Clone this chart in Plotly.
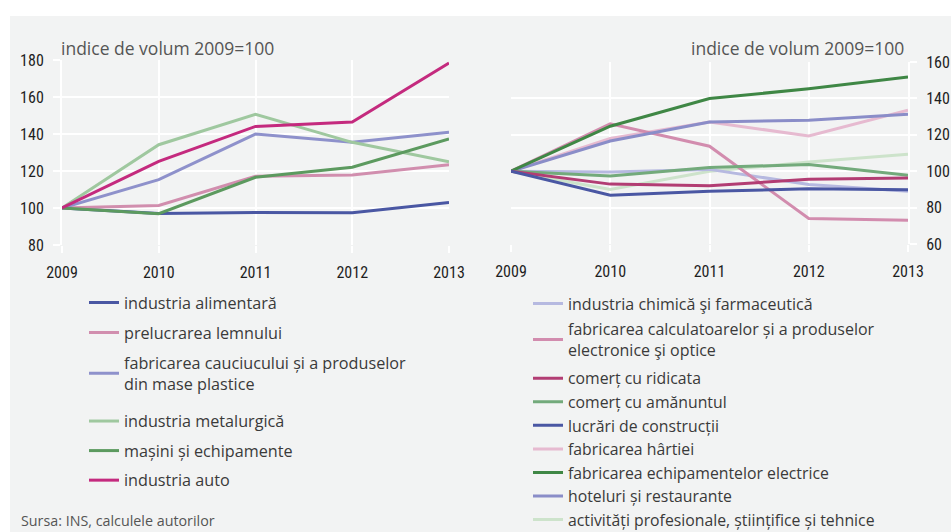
import plotly.graph_objects as go

years = [2009, 2010, 2011, 2012, 2013]

# Left panel series
left_names = [
    "industria alimentară",
    "prelucrarea lemnului",
    "fabricarea cauciucului și a produselor<br>din mase plastice",
    "industria metalurgică",
    "mașini și echipamente",
    "industria auto",
]
alimentara = [100, 97.0, 97.6, 97.4, 103.0]
lemn = [100, 101.4, 117.1, 117.8, 123.4]
cauciuc = [100, 115.3, 140.0, 135.5, 140.9]
metalurgica = [100, 134.2, 150.6, 135.5, 125.0]
masini = [100, 96.9, 116.6, 122.0, 137.3]
auto = [100, 125.2, 144.1, 146.5, 178.4]
left_values = [alimentara, lemn, cauciuc, metalurgica, masini, auto]
left_colors = ["#4a57a3", "#d18eae", "#8e91cb", "#9fc89f", "#5c9a5f", "#c42a7e"]

# Right panel series
right_names = [
    "industria chimică şi farmaceutică",
    "fabricarea calculatoarelor și a produselor<br>electronice şi optice",
    "comerț cu ridicata",
    "comerț cu amănuntul",
    "lucrări de construcții",
    "fabricarea hârtiei",
    "fabricarea echipamentelor electrice",
    "hoteluri și restaurante",
    "activități profesionale, științifice și tehnice",
]
chimica = [100, 99.6, 101.0, 92.7, 89.0]
calculatoare = [100, 126.0, 113.7, 74.0, 73.1]
ridicata = [100, 92.9, 92.0, 95.6, 96.3]
amanunt = [100, 97.4, 102.0, 103.7, 97.8]
constructii = [100, 86.8, 89.0, 90.3, 89.8]
hartie = [100, 118.0, 127.0, 119.4, 133.5]
echip_electrice = [100, 124.7, 139.9, 145.3, 151.7]
hoteluri = [100, 116.6, 127.0, 128.0, 131.3]
activitati = [100, 90.0, 100.0, 105.0, 109.3]
right_values = [chimica, calculatoare, ridicata, amanunt, constructii,
                hartie, echip_electrice, hoteluri, activitati]
right_colors = ["#b6b9e0", "#d28cae", "#b23d73", "#73aa7b", "#4a57a3",
                "#e6bad0", "#3f8745", "#8a8dc8", "#cde3cb"]
# drawing order on the right panel (bottom to top)
right_draw_order = [8, 0, 5, 1, 7, 6, 3, 2, 4]

left_ticks = [80, 100, 120, 140, 160, 180]
right_ticks = [60, 80, 100, 120, 140, 160]
unit_title = "indice de volum 2009=100"
source_text = "Sursa: INS, calculele autorilor"

W, H = 951, 532
BG = "#f2f3f3"
TICK_FONT = dict(family="Roboto Condensed, Liberation Sans Narrow, Arial Narrow, Roboto, sans-serif",
                 size=16, color="#1e1e1e")
TEXT_FONT = "Open Sans, Noto Sans, sans-serif"

fig = go.Figure()

# legend blocks: left panel split after the two-line entry, right panel likewise
left_legend_of = ["legend", "legend", "legend", "legend3", "legend3", "legend3"]
right_legend_of = ["legend2", "legend2", "legend4", "legend4", "legend4",
                   "legend4", "legend4", "legend4", "legend4"]

for i, (name, vals, col) in enumerate(zip(left_names, left_values, left_colors)):
    fig.add_trace(go.Scatter(
        x=years, y=vals, name=name, mode="lines",
        line=dict(color=col, width=3),
        xaxis="x", yaxis="y", legend=left_legend_of[i], legendgroup=f"l{i}",
        legendrank=i + 1,
    ))

for i in right_draw_order:
    fig.add_trace(go.Scatter(
        x=years, y=right_values[i], name=right_names[i], mode="lines",
        line=dict(color=right_colors[i], width=3),
        xaxis="x2", yaxis="y2", legend=right_legend_of[i], legendgroup=f"r{i}",
        legendrank=i + 1,
    ))

def px_x(p):
    return p / W

def px_y(p):
    return (H - p) / H

axis_common = dict(
    showgrid=True, gridcolor="white", gridwidth=2, automargin=False,
    zeroline=False, ticks="outside", ticklen=7, tickcolor="white", tickwidth=2,
    tickfont=TICK_FONT,
)

def leg(xp, yp, gap, size):
    return dict(
        x=px_x(xp), y=px_y(yp), xanchor="left", yanchor="top",
        bgcolor="rgba(0,0,0,0)", font=dict(family=TEXT_FONT, size=size, color="#3a3a3a"),
        tracegroupgap=gap, itemclick=False, itemdoubleclick=False,
    )

fig.update_layout(
    width=W, height=H,
    margin=dict(l=0, r=0, t=0, b=0, autoexpand=False),
    paper_bgcolor="white",
    plot_bgcolor="rgba(0,0,0,0)",
    xaxis=dict(domain=[px_x(62), px_x(449)], range=[2009, 2013], tickvals=years,
               anchor="y", showline=False, ticklabelstandoff=6, **axis_common),
    yaxis=dict(domain=[px_y(245), px_y(60)], range=[80, 180], tickvals=left_ticks,
               anchor="x", showline=True, linecolor="white", linewidth=2,
               ticklabelstandoff=6, **axis_common),
    xaxis2=dict(domain=[px_x(511), px_x(908)], range=[2009, 2013], tickvals=years,
                anchor="y2", showline=False, ticklabelstandoff=6, **axis_common),
    yaxis2=dict(domain=[px_y(244), px_y(62)], range=[60, 160], tickvals=right_ticks,
                anchor="x2", side="right", showline=True, linecolor="white", linewidth=2,
                ticklabelstandoff=6, **axis_common),
    legend=leg(84, 285.5, 6, 16.2),
    legend3=leg(84, 404, 5.5, 16.2),
    legend2=leg(528, 286.5, 2, 16),
    legend4=leg(528, 361.5, 0, 15.8),
    shapes=[dict(type="rect", xref="paper", yref="paper", x0=px_x(10), x1=1,
                 y0=0, y1=px_y(16), fillcolor=BG, line=dict(width=0), layer="below")],
    annotations=[
        dict(text=unit_title, xref="paper", yref="paper", x=px_x(59), y=px_y(48),
             xanchor="left", yanchor="middle", showarrow=False,
             font=dict(family=TEXT_FONT, size=17.5, color="#555555")),
        dict(text=unit_title, xref="paper", yref="paper", x=px_x(906), y=px_y(48),
             xanchor="right", yanchor="middle", showarrow=False,
             font=dict(family=TEXT_FONT, size=17.5, color="#555555")),
        dict(text=source_text, xref="paper", yref="paper", x=px_x(19), y=px_y(520),
             xanchor="left", yanchor="middle", showarrow=False,
             font=dict(family=TEXT_FONT, size=14.3, color="#555555")),
    ],
    showlegend=True,
)

fig.write_html("out.html", config={"displayModeBar": False},
               post_script="document.body.style.margin='0';document.body.style.overflow='hidden';")
